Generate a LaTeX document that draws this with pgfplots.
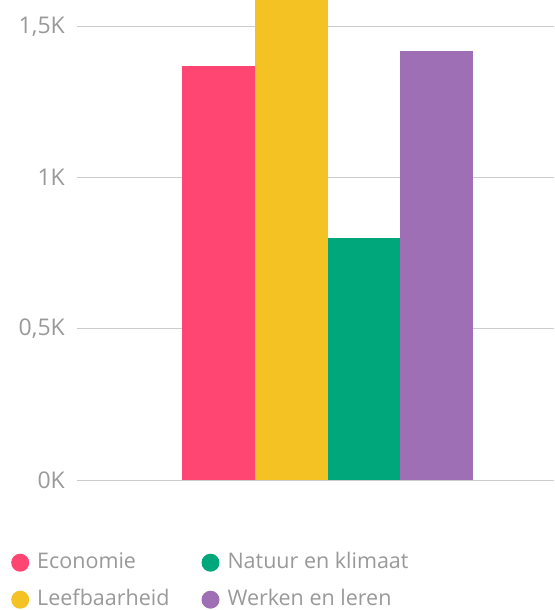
\documentclass[border=0pt]{standalone}
\usepackage{pgfplots}
\pgfplotsset{compat=1.18}
\usepackage{fontspec}
\setmainfont{Open Sans}
\definecolor{cEco}{HTML}{FF4571}
\definecolor{cLeef}{HTML}{F5C223}
\definecolor{cNat}{HTML}{00A77A}
\definecolor{cWerk}{HTML}{9F6FB5}
\definecolor{txt}{HTML}{999999}
\definecolor{gridc}{HTML}{CCCCCC}
\begin{document}
\begin{tikzpicture}
\useasboundingbox (0,0) rectangle (554pt,610pt);
\begin{axis}[
    at={(77pt,130pt)}, anchor=south west,
    scale only axis,
    width=477pt, height=480pt,
    xmin=0, xmax=477,
    ymin=0, ymax=1588,
    axis line style={draw=none},
    major tick length=0pt,
    xtick=\empty,
    ytick={0,500,1000,1500},
    yticklabels={0K,{0,5K},1K,{1,5K}},
    yticklabel style={font=\fontsize{23}{27}\selectfont, text=txt, inner sep=0pt, xshift=-12pt},
    ymajorgrids,
    grid style={gridc, line width=1pt},
    bstyle/.style={ybar, bar shift=0pt, bar width=73, draw=none, fill=#1,
        legend image code/.code={\fill[##1] (9pt,0pt) circle (9pt);}},
    legend columns=2,
    transpose legend,
    legend cell align=left,
    legend style={at={(0,0)}, anchor=north west, xshift=-69pt, yshift=-71pt,
        draw=none, fill=none, font=\fontsize{21.5}{25}\selectfont, text=txt,
        nodes={text height=15pt, text depth=4pt, inner sep=0pt},
        row sep=18pt,
        /tikz/column 2/.style={column sep=32pt},
    },
]
\addplot[bstyle=cEco] coordinates {(141.5,1369)};
\addlegendentry{\hspace{8pt}Economie}
\addplot[bstyle=cLeef] coordinates {(214.5,1650)};
\addlegendentry{\hspace{8pt}Leefbaarheid}
\addplot[bstyle=cNat] coordinates {(287,800)};
\addlegendentry{\hspace{8pt}Natuur en klimaat}
\addplot[bstyle=cWerk] coordinates {(359.5,1419)};
\addlegendentry{\hspace{8pt}Werken en leren}
\end{axis}
\end{tikzpicture}
\end{document}
